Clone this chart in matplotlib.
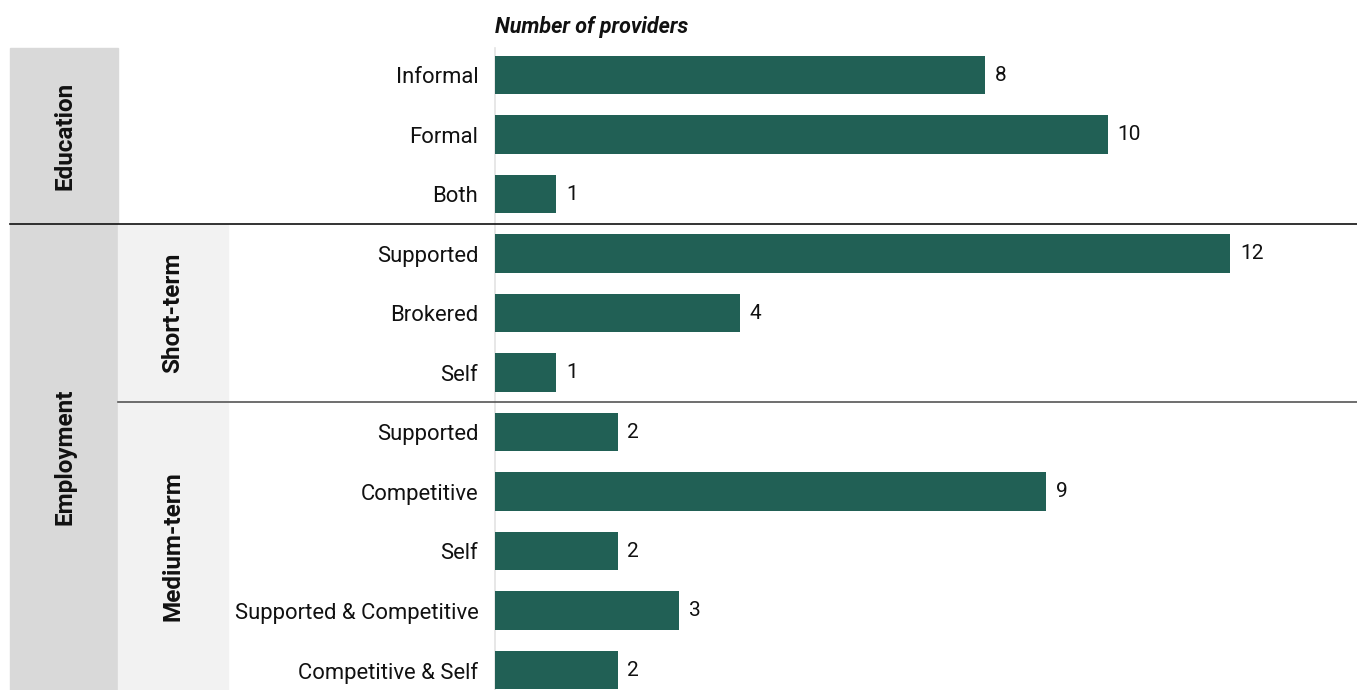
import matplotlib

matplotlib.use("Agg")
import matplotlib.pyplot as plt  # noqa: E402
from matplotlib.transforms import blended_transform_factory  # noqa: E402

# --- data -------------------------------------------------------------------

labels = [
    "Informal", "Formal", "Both",
    "Supported", "Brokered", "Self",
    "Supported", "Competitive", "Self",
    "Supported & Competitive", "Competitive & Self",
]
values = [8, 10, 1, 12, 4, 1, 2, 9, 2, 3, 2]

groups = ["Education", "Employment"]
group_sizes = [3, 8]
subgroups = ["Short-term", "Medium-term"]   # inside Employment
subgroup_sizes = [3, 5]

# --- styling ----------------------------------------------------------------

_BAR = "#216055"
_DARK_BAND = "#d9d9d9"
_LIGHT_BAND = "#f2f2f2"
_INK = "#111111"
_FONT = "Roboto"
_FS = 15.8
_GROUP_FS = 17.5

W, H = 1357, 690
plt.rcParams.update({"font.family": _FONT, "font.size": _FS})

fig = plt.figure(figsize=(W / 100, H / 100), dpi=100)
ax = fig.add_axes([495 / W, 0, (W - 495) / W, (H - 48) / H])

y = list(range(len(labels)))
bars = ax.barh(y, values, height=0.64, color=_BAR, zorder=3)
for b, v in zip(bars, values):
    ax.text(b.get_width() + 0.16, b.get_y() + b.get_height() / 2, str(v),
            va="center", ha="left", fontsize=15, color=_INK)

ax.set_xlim(0, 14.07)
ax.set_ylim(10.336, -0.454)
ax.set_yticks(y)
ax.set_yticklabels(labels)
ax.tick_params(axis="y", length=0, pad=12, labelsize=_FS, colors=_INK)
ax.set_xticks([])
for side in ("top", "right", "bottom"):
    ax.spines[side].set_visible(False)
ax.spines["left"].set_color("#e3e3e3")
ax.spines["left"].set_linewidth(1.2)

ax.text(0, 1.032, "Number of providers", transform=ax.transAxes,
        ha="left", va="center", fontsize=15.5, fontweight="bold",
        style="italic", color=_INK)

# --- group bands (x in figure coords, y in row units) ----------------------

tr = blended_transform_factory(fig.transFigure, ax.transData)
bottom, top = ax.get_ylim()
x0, x1, x2 = 10 / W, 118 / W, 228 / W

edges = []
pos = -0.5
for i, (g, n) in enumerate(zip(groups, group_sizes)):
    end = pos + n if i < len(groups) - 1 else bottom
    y_top = top if i == 0 else pos
    fig.patches.append(plt.Rectangle((x0, y_top), x1 - x0, end - y_top,
                                     transform=tr, color=_DARK_BAND,
                                     zorder=0))
    fig.text(65 / W, (y_top + end) / 2, g, transform=tr, rotation=90,
             ha="center", va="center", fontsize=_GROUP_FS,
             fontweight="bold", color=_INK)
    if i > 0:
        edges.append((pos, x0, "#111111"))
    pos = pos + n

pos = -0.5 + group_sizes[0]
for j, (s, n) in enumerate(zip(subgroups, subgroup_sizes)):
    end = pos + n if j < len(subgroups) - 1 else bottom
    fig.patches.append(plt.Rectangle((x1, pos), x2 - x1, end - pos,
                                     transform=tr, color=_LIGHT_BAND,
                                     zorder=0))
    fig.text(173 / W, (pos + end) / 2, s, transform=tr, rotation=90,
             ha="center", va="center", fontsize=_GROUP_FS,
             fontweight="bold", color=_INK)
    if j > 0:
        edges.append((pos, x1, "#555555"))
    pos = pos + n

for yy, xs, c in edges:
    fig.add_artist(plt.Line2D([xs, 1], [yy, yy], transform=tr, color=c,
                              lw=1.2, zorder=5))

fig.savefig("out.png", dpi=100, facecolor="white")
plt.close(fig)
